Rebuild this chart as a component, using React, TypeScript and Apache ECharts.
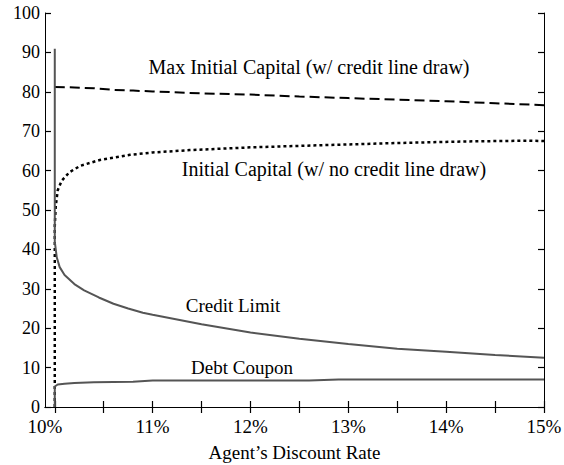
import React, { useEffect, useRef } from "react";
import * as echarts from "echarts";

// x: agent's discount rate (%), y: value
const maxInitialCapital: [number, number][] = [
  [10.0, 81.2], [10.2, 81.1], [10.4, 80.9], [10.6, 80.5], [10.8, 80.3], [11.0, 80.1],
  [11.5, 79.6], [12.0, 79.3], [12.5, 78.8], [13.0, 78.4], [13.5, 78.0], [14.0, 77.6],
  [14.5, 77.1], [15.0, 76.6],
];

const initialCapital: [number, number][] = [
  [10.0, 0], [10.0, 46], [10.01, 51], [10.03, 55], [10.07, 57.4], [10.15, 59.6],
  [10.26, 61.2], [10.46, 62.7], [10.77, 64.0], [11.0, 64.6], [11.38, 65.2], [12.0, 65.9],
  [12.8, 66.5], [13.5, 67.0], [14.2, 67.4], [14.85, 67.6], [15.0, 67.5],
];

const creditLimit: [number, number][] = [
  [10.0, 90.9], [10.0, 42], [10.02, 38], [10.05, 35.5], [10.1, 33.5], [10.2, 31.2],
  [10.3, 29.6], [10.45, 27.8], [10.6, 26.2], [10.75, 25.0], [10.9, 23.9], [11.0, 23.4],
  [11.5, 21.0], [12.0, 18.9], [12.5, 17.3], [13.0, 16.0], [13.5, 14.8], [14.0, 14.0],
  [14.5, 13.2], [15.0, 12.5],
];

const debtCoupon: [number, number][] = [
  [10.0, 0], [10.0, 5.2], [10.03, 5.7], [10.1, 5.9], [10.2, 6.1], [10.4, 6.3],
  [10.8, 6.4], [11.0, 6.7], [12.0, 6.7], [12.6, 6.7], [12.9, 7.0], [15.0, 7.0],
];

const xTickValues = [10, 10.5, 11, 11.5, 12, 12.5, 13, 13.5, 14, 14.5, 15];
const xLabelValues = [9.9, 11, 12, 13, 14, 15];
const yTickValues = [0, 10, 20, 30, 40, 50, 60, 70, 80, 90, 100];

const FONT = '"Liberation Serif", "Times New Roman", serif';

export default function App() {
  const ref = useRef<HTMLDivElement>(null);

  useEffect(() => {
    if (!ref.current) return;
    const chart = echarts.init(ref.current, null, { renderer: "svg" });
    const axisLine = { show: true, lineStyle: { color: "#000", width: 1 } };
    const mkTick = (vals: number[]) => ({
      show: true,
      inside: true,
      length: 6,
      customValues: vals,
      lineStyle: { color: "#000", width: 1.2 },
    });
    chart.setOption({
      animation: false,
      backgroundColor: "#fff",
      grid: { left: 45, right: 20, top: 13, bottom: 58, containLabel: false, outerBoundsMode: "none" },
      xAxis: [
        {
          type: "value",
          position: "bottom",
          min: 9.9,
          max: 15,
          axisLine,
          axisTick: mkTick(xTickValues),
          axisLabel: {
            customValues: xLabelValues,
            formatter: (v: number) => Math.round(v) + "%",
            color: "#000",
            fontFamily: FONT,
            fontSize: 19,
            margin: 10,
            showMinLabel: true,
            showMaxLabel: true,
          },
          splitLine: { show: false },
          name: "Agent\u2019s Discount Rate",
          nameLocation: "middle",
          nameGap: 36,
          nameTextStyle: { color: "#000", fontFamily: FONT, fontSize: 19 },
        },
        {
          type: "value",
          position: "top",
          min: 9.9,
          max: 15,
          axisLine,
          axisTick: mkTick(xTickValues),
          axisLabel: { show: false },
          splitLine: { show: false },
        },
      ],
      yAxis: [
        {
          type: "value",
          position: "left",
          min: 0,
          max: 100,
          interval: 10,
          axisLine,
          axisTick: mkTick(yTickValues),
          axisLabel: { color: "#000", fontFamily: FONT, fontSize: 18, margin: 5 },
          splitLine: { show: false },
        },
        {
          type: "value",
          position: "right",
          min: 0,
          max: 100,
          interval: 10,
          axisLine,
          axisTick: mkTick(yTickValues),
          axisLabel: { show: false },
          splitLine: { show: false },
        },
      ],
      series: [
        {
          name: "Max Initial Capital (w/ credit line draw)",
          type: "line",
          data: maxInitialCapital,
          showSymbol: false,
          lineStyle: { color: "#000", width: 2, type: [10, 5] },
        },
        {
          name: "Initial Capital (w/ no credit line draw)",
          type: "line",
          data: initialCapital,
          showSymbol: false,
          lineStyle: { color: "#000", width: 2.5, type: [3, 3] },
        },
        {
          name: "Credit Limit",
          type: "line",
          data: creditLimit,
          showSymbol: false,
          lineStyle: { color: "#555", width: 2 },
        },
        {
          name: "Debt Coupon",
          type: "line",
          data: debtCoupon,
          showSymbol: false,
          lineStyle: { color: "#555", width: 2 },
        },
      ],
      graphic: [
        { type: "text", x: 309, y: 67, style: { text: "Max Initial Capital (w/ credit line draw)", fill: "#000", font: `20px ${FONT}`, textAlign: "center", textVerticalAlign: "middle" } },
        { type: "text", x: 334, y: 169, style: { text: "Initial Capital (w/ no credit line draw)", fill: "#000", font: `20px ${FONT}`, textAlign: "center", textVerticalAlign: "middle" } },
        { type: "text", x: 233, y: 305, style: { text: "Credit Limit", fill: "#000", font: `19px ${FONT}`, textAlign: "center", textVerticalAlign: "middle" } },
        { type: "text", x: 242, y: 367, style: { text: "Debt Coupon", fill: "#000", font: `19px ${FONT}`, textAlign: "center", textVerticalAlign: "middle" } },
      ],
    });
    return () => chart.dispose();
  }, []);

  return (
    <div
      ref={ref}
      style={{ position: "absolute", left: 0, top: 0, width: 564, height: 465, background: "#fff" }}
    />
  );
}
